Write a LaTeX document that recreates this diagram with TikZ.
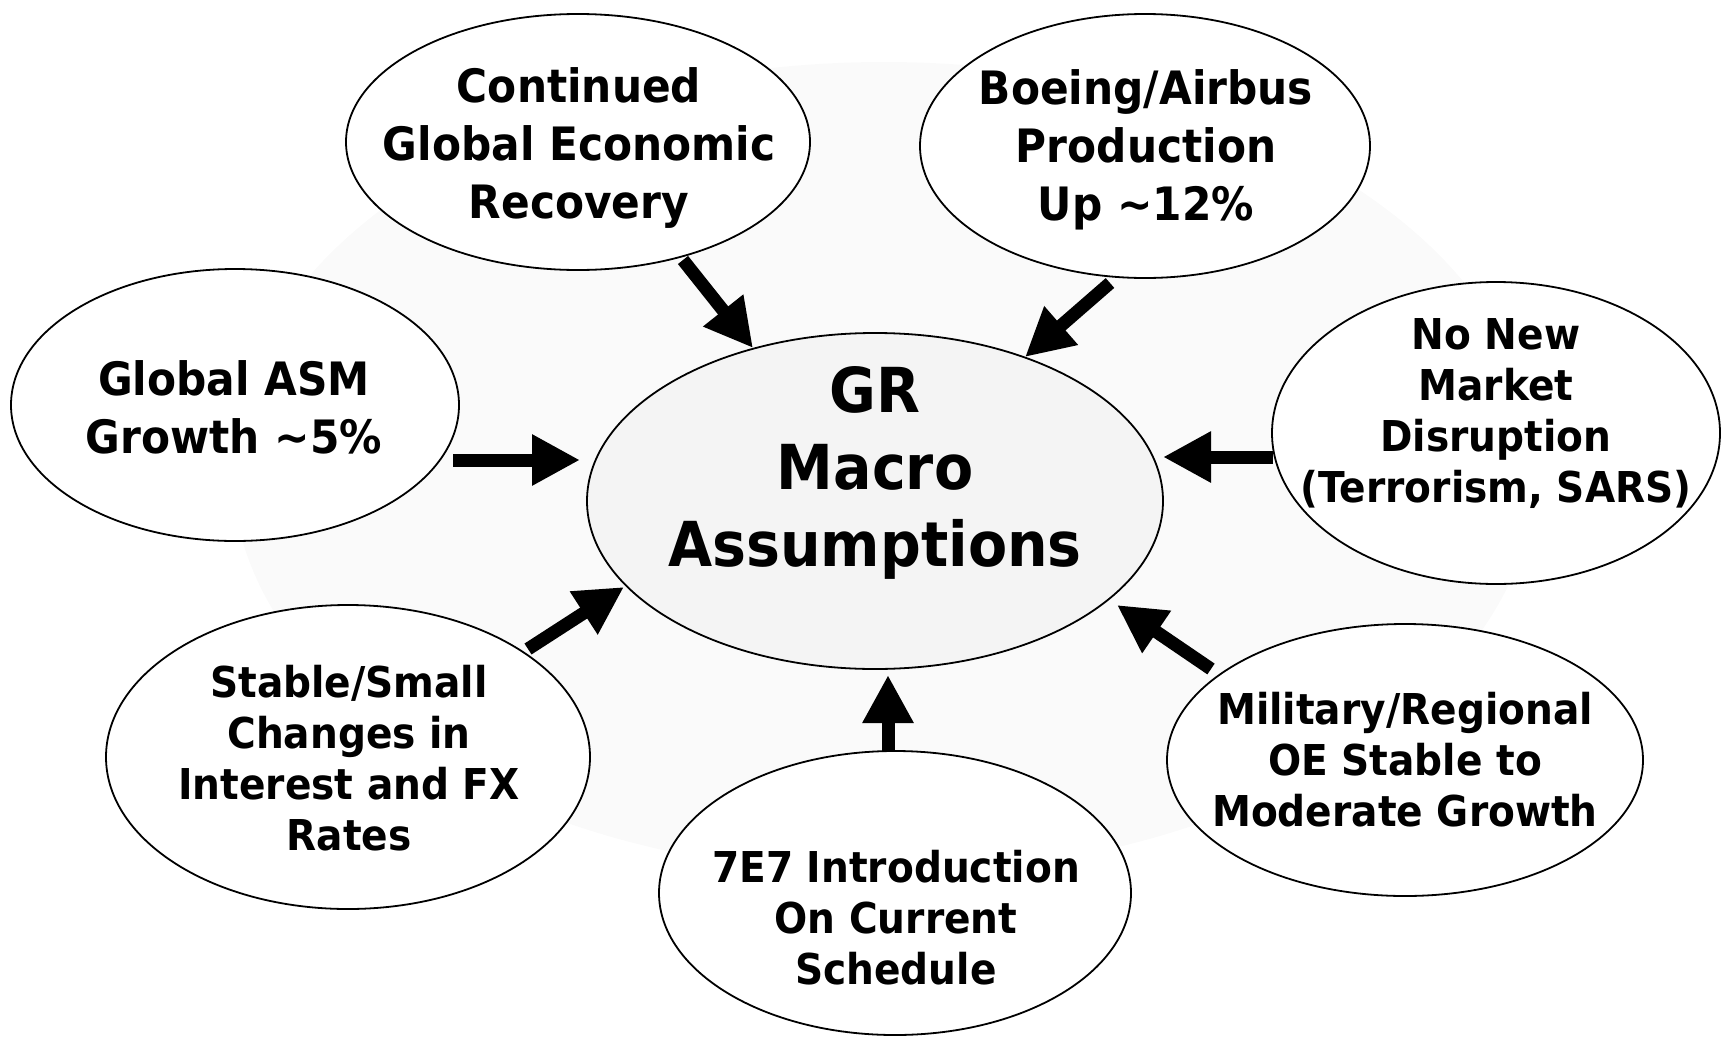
\documentclass[tikz,border=0pt]{standalone}
\usepackage{fontspec}
\newfontfamily\lblfont{DejaVu Sans Bold}[FakeStretch=0.92]
\usetikzlibrary{arrows.meta,shapes.geometric,calc}
\definecolor{halo}{HTML}{FAFAFA}
\definecolor{core}{HTML}{F4F4F4}

\begin{document}
\begin{tikzpicture}[x=1pt,y=-1pt,
  bubble/.style={ellipse, draw=black, line width=1.8pt, fill=white, inner sep=0pt},
  % labels are anchored at the baseline of their last line
  lbl/.style={font=\lblfont\fontsize{46}{58}\selectfont, align=center, inner sep=0pt, anchor=base},
  lblsmall/.style={lbl, font=\lblfont\fontsize{42.5}{51}\selectfont},
  lblbig/.style={lbl, font=\lblfont\fontsize{62}{77}\selectfont},
  feed/.style={line width=13pt, -{Triangle[length=48pt,width=48pt]}}
]
\useasboundingbox (0,0) rectangle (1723,1036);

% faint halo behind the hub
\fill[halo] (884,468) ellipse [x radius=652pt, y radius=406pt];

% hub
\node[bubble, fill=core, minimum width=576pt, minimum height=336pt] (ctr) at (875,501) {};

% surrounding assumptions
\node[bubble, minimum width=464pt, minimum height=256pt] (cont)  at (578,142) {};
\node[bubble, minimum width=450pt, minimum height=264pt] (boe)   at (1145,146) {};
\node[bubble, minimum width=448pt, minimum height=272pt] (asm)   at (235,405) {};
\node[bubble, minimum width=448pt, minimum height=302pt] (nonew) at (1496,433) {};
\node[bubble, minimum width=484pt, minimum height=304pt] (stab)  at (348,757) {};
\node[bubble, minimum width=476pt, minimum height=272pt] (mil)   at (1405,760) {};
\node[bubble, minimum width=472pt, minimum height=284pt] (e7)    at (895,893) {};

% labels
\node[lblbig] (ctrT) at (875,566) {GR\\Macro\\Assumptions};
\node[lbl] (contT) at (579,218) {Continued\\Global Economic\\Recovery};
\node[lbl] (boeT) at (1146,220) {Boeing/Airbus\\Production\\Up \textasciitilde12\%};
\node[lbl] (asmT) at (234,453) {Global ASM\\Growth \textasciitilde5\%};
\node[lblsmall] (nonewT) at (1496,502) {No New\\Market\\Disruption\\(Terrorism, SARS)};
\node[lblsmall] (stabT) at (349,850) {Stable/Small\\Changes in\\Interest and FX\\Rates};
\node[lblsmall] (milT) at (1405,826) {Military/Regional\\OE Stable to\\Moderate Growth};
\node[lblsmall] (e7T) at (896,984) {7E7 Introduction\\On Current\\Schedule};

% feeder arrows into the hub
\draw[feed] ($(cont)+(105,118)$)  -- ($(ctr)+(-122,-153)$);
\draw[feed] ($(boe)+(-35,137)$)   -- ($(ctr)+(150,-144)$);
\draw[feed] ($(asm)+(218,55)$)    -- ($(ctr)+(-295,-41)$);
\draw[feed] ($(nonew)+(-223,24)$) -- ($(ctr)+(288,-44)$);
\draw[feed] ($(stab)+(180,-108)$) -- ($(ctr)+(-251,86)$);
\draw[feed] ($(mil)+(-194,-91)$)  -- ($(ctr)+(242,104)$);
\draw[feed] ($(e7)+(-7,-141)$)    -- ($(ctr)+(13,174)$);
\end{tikzpicture}
\end{document}
